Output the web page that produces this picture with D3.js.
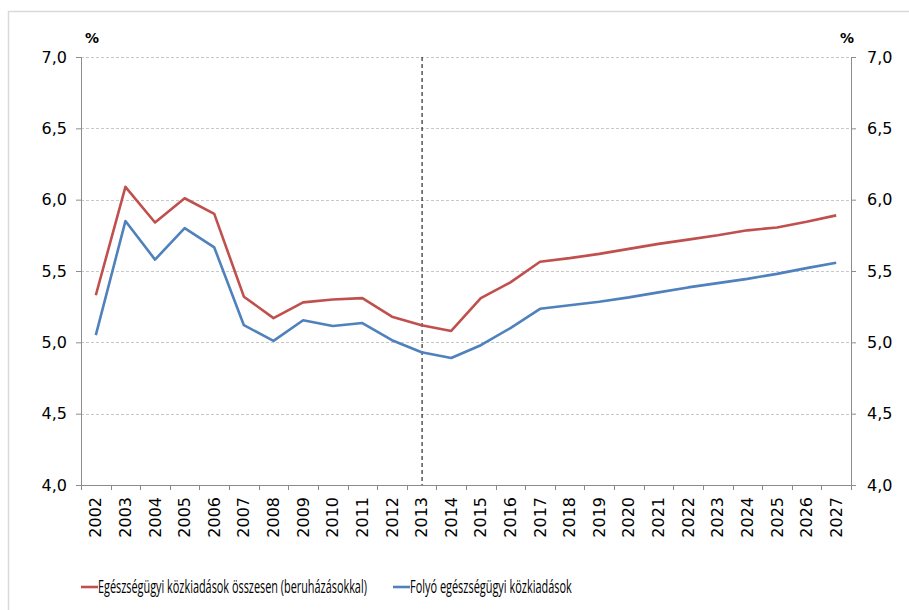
<!DOCTYPE html>
<html>
<head>
<meta charset="utf-8">
<script src="https://cdn.jsdelivr.net/npm/d3@7"></script>
<style>
  body { margin: 0; background: #fff; }
  svg { display: block; font-family: "DejaVu Sans", sans-serif; }
</style>
</head>
<body>
<svg id="chart" width="909" height="610"></svg>
<script>
// years on the x axis
const years = d3.range(2002, 2028).map(String);

// Egészségügyi közkiadások összesen (beruházásokkal), % of GDP
const totalSpending = [5.33, 6.09, 5.84, 6.01, 5.90, 5.32, 5.17, 5.28, 5.30, 5.31, 5.18, 5.12, 5.08,
                       5.31, 5.42, 5.565, 5.59, 5.62, 5.655, 5.69, 5.72, 5.75, 5.785, 5.805, 5.845, 5.89];

// Folyó egészségügyi közkiadások, % of GDP
const currentSpending = [5.05, 5.85, 5.58, 5.80, 5.665, 5.12, 5.01, 5.155, 5.115, 5.135, 5.015, 4.93, 4.89,
                         4.98, 5.10, 5.235, 5.26, 5.285, 5.315, 5.35, 5.385, 5.415, 5.445, 5.48, 5.52, 5.558];

const yTicks = [4.0, 4.5, 5.0, 5.5, 6.0, 6.5, 7.0];
const markerYear = "2013";

const seriesNames = ["Egészségügyi közkiadások összesen (beruházásokkal)", "Folyó egészségügyi közkiadások"];
const colors = ["#c0504d", "#4f81bd"];

const margin = { top: 57, right: 58, bottom: 125, left: 81 };
const width = 909 - margin.left - margin.right;
const height = 610 - margin.top - margin.bottom;

const svg = d3.select("#chart");

// outer frame
svg.append("rect")
    .attr("x", 8.5).attr("y", 11.5)
    .attr("width", 920).attr("height", 620)
    .attr("fill", "none")
    .attr("stroke", "#d9d9d9")
    .attr("stroke-width", 1.5);

const g = svg.append("g")
    .attr("transform", "translate(" + margin.left + "," + margin.top + ")");

const x = d3.scaleBand().domain(years).range([0, width]);
const y = d3.scaleLinear().domain([4, 7]).range([height, 0]);
const fmt = d => d.toFixed(1).replace(".", ",");

// gridlines
g.selectAll(".grid")
    .data(yTicks.filter(d => d > 4))
    .enter().append("line")
    .attr("class", "grid")
    .attr("x1", 0).attr("x2", width)
    .attr("y1", d => Math.round(y(d)) + 0.5)
    .attr("y2", d => Math.round(y(d)) + 0.5)
    .attr("stroke", "#c8c8c8")
    .attr("stroke-dasharray", "3,2");

// left axis
const yLeft = g.append("g")
    .call(d3.axisLeft(y).tickValues(yTicks).tickFormat(fmt).tickSize(5).tickPadding(9));
// right axis
const yRight = g.append("g")
    .attr("transform", "translate(" + width + ",0)")
    .call(d3.axisRight(y).tickValues(yTicks).tickFormat(fmt).tickSize(5).tickPadding(11));

[yLeft, yRight].forEach(ax => {
    ax.select(".domain").attr("stroke", "#8c8c8c");
    ax.selectAll(".tick line").attr("stroke", "#8c8c8c");
    ax.selectAll(".tick text")
        .attr("fill", "#000")
        .style("font-size", "16px")
        .style("font-family", "DejaVu Sans, sans-serif");
});

// x axis with ticks at category boundaries
const xAxis = g.append("g")
    .attr("transform", "translate(0," + height + ")")
    .call(d3.axisBottom(x).tickSize(0).tickPadding(0));
xAxis.select(".domain").attr("stroke", "#8c8c8c");
xAxis.selectAll(".tick text")
    .attr("transform", "rotate(-90)")
    .attr("x", -12)
    .attr("y", 0)
    .attr("dy", "0.35em")
    .style("text-anchor", "end")
    .style("font-size", "16px")
    .style("font-family", "DejaVu Sans, sans-serif")
    .attr("fill", "#000");
xAxis.selectAll(".bound")
    .data(years.concat(["end"]))
    .enter().append("line")
    .attr("class", "bound")
    .attr("x1", (d, i) => Math.round(i * x.step()) + 0.5)
    .attr("x2", (d, i) => Math.round(i * x.step()) + 0.5)
    .attr("y1", 0).attr("y2", 5)
    .attr("stroke", "#8c8c8c");

// vertical dashed marker
g.append("line")
    .attr("x1", x(markerYear) + x.bandwidth() / 2 + 0.5)
    .attr("x2", x(markerYear) + x.bandwidth() / 2 + 0.5)
    .attr("y1", 0).attr("y2", height)
    .attr("stroke", "#000")
    .attr("stroke-dasharray", "4,3");

// lines
const line = d3.line()
    .x((d, i) => x(years[i]) + x.bandwidth() / 2)
    .y(d => y(d));

[totalSpending, currentSpending].forEach((s, i) => {
    g.append("path")
        .datum(s)
        .attr("fill", "none")
        .attr("stroke", colors[i])
        .attr("stroke-width", 2.6)
        .attr("stroke-linejoin", "round")
        .attr("d", line);
});

// % labels
svg.append("text").attr("x", 85).attr("y", 43).text("%")
    .style("font-size", "14px").style("font-weight", "bold");
svg.append("text").attr("x", 840).attr("y", 43).text("%")
    .style("font-size", "14px").style("font-weight", "bold");

// legend (text squeezed horizontally, the original font is a narrow one)
const legendX = [81, 393];
const legendW = [269, 162];
const legend = svg.selectAll(".legend")
    .data(seriesNames)
    .enter().append("g")
    .attr("class", "legend")
    .attr("transform", (d, i) => "translate(" + legendX[i] + ",587)");
legend.append("line")
    .attr("x1", 0).attr("x2", 17)
    .attr("stroke", (d, i) => colors[i])
    .attr("stroke-width", 2.6);
legend.append("text")
    .attr("dy", "0.36em")
    .text(d => d)
    .style("font-size", "17.5px")
    .style("font-family", "'Open Sans', sans-serif")
    .each(function (d, i) {
        const k = legendW[i] / this.getComputedTextLength();
        d3.select(this).attr("transform", "translate(17,0) scale(" + k + ",1)");
    });
</script>
</body>
</html>
